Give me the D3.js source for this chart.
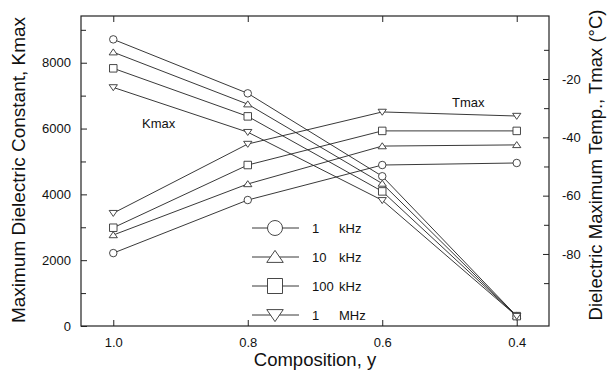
<!DOCTYPE html>
<html>
<head>
<meta charset="utf-8">
<script src="https://cdn.jsdelivr.net/npm/d3@7"></script>
<style>
	body { margin: 0; background: #fff; }
	svg { display: block; font-family: Arial, "Liberation Sans", sans-serif; }
	.frame { fill: none; stroke: #222; stroke-width: 1.2; }
	.tick line { stroke: #222; }
	.series { fill: none; stroke: #222; stroke-width: 0.9; }
	.marker { fill: #fff; stroke: #333; stroke-width: 0.9; }
</style>
</head>
<body>
<svg id="canvas" width="609" height="370"></svg>
<script>
// composition values on the x axis
const comps = [1.0, 0.8, 0.6, 0.4];
const xTicks = [1.0, 0.8, 0.6, 0.4];
const kTicks = [0, 2000, 4000, 6000, 8000];
const kMinor = [1000, 3000, 5000, 7000, 9000];
const tTicks = [-20, -40, -60, -80];
const tMinor = [-10, -30, -50, -70, -90];

// series: 1 kHz, 10 kHz, 100 kHz, 1 MHz
const shapes = ["circle", "up", "square", "down"];
const freqNum = ["1", "10", "100", "1"];
const freqUnit = ["kHz", "kHz", "kHz", "MHz"];

// maximum dielectric constant (left axis)
const kmax1k = [8710, 7070, 4550, 300];
const kmax10k = [8320, 6740, 4330, 300];
const kmax100k = [7830, 6370, 4090, 300];
const kmax1M = [7250, 5890, 3820, 300];

// temperature of the maximum, degC (right axis)
const tmax1k = [-79.7, -61.5, -49.5, -48.8];
const tmax10k = [-73.5, -56.0, -43.0, -42.6];
const tmax100k = [-71.0, -49.5, -37.8, -37.8];
const tmax1M = [-66.0, -42.3, -31.3, -32.7];

const kmaxSeries = [kmax1k, kmax10k, kmax100k, kmax1M];
const tmaxSeries = [tmax1k, tmax10k, tmax100k, tmax1M];

const svg = d3.select("#canvas");
const mLeft = 81, mRight = 549, mTop = 16, mBottom = 326;

const x = d3.scaleLinear().domain([1.048, 0.352]).range([mLeft, mRight]);
const yK = d3.scaleLinear().domain([0, 9420]).range([mBottom, mTop]);
const yT = d3.scaleLinear().domain([-104.7, 1.6]).range([mBottom, mTop]);

// marker path, centred on 0,0
function markerPath(shape, s) {
	if (shape === "circle") return d3.symbol(d3.symbolCircle, Math.PI * s * s / 4)();
	if (shape === "square") return d3.symbol(d3.symbolSquare, s * s)();
	const h = s * 0.8, w = s * 0.55;
	if (shape === "up") return `M0,${-h * 0.55}L${w},${h * 0.45}L${-w},${h * 0.45}Z`;
	return `M0,${h * 0.55}L${w},${-h * 0.45}L${-w},${-h * 0.45}Z`;
}

// axes (ticks inward)
svg.append("g").attr("transform", `translate(${mLeft},0)`)
	.call(d3.axisLeft(yK).tickValues(kTicks).tickSizeInner(-6).tickSizeOuter(0).tickPadding(10).tickFormat(d3.format("d")))
	.call(g => g.select(".domain").remove());
svg.append("g").attr("transform", `translate(${mLeft},0)`)
	.call(d3.axisLeft(yK).tickValues(kMinor).tickSizeInner(-5).tickSizeOuter(0).tickFormat(""))
	.call(g => g.select(".domain").remove());
svg.append("g").attr("transform", `translate(${mRight},0)`)
	.call(d3.axisRight(yT).tickValues(tTicks).tickSizeInner(-6).tickSizeOuter(0).tickPadding(13).tickFormat(d => "-" + Math.abs(d)))
	.call(g => g.select(".domain").remove());
svg.append("g").attr("transform", `translate(${mRight},0)`)
	.call(d3.axisRight(yT).tickValues(tMinor).tickSizeInner(-5).tickSizeOuter(0).tickFormat(""))
	.call(g => g.select(".domain").remove());
svg.append("g").attr("transform", `translate(0,${mBottom})`)
	.call(d3.axisBottom(x).tickValues(xTicks).tickSizeInner(-6).tickSizeOuter(0).tickPadding(12).tickFormat(d3.format(".1f")))
	.call(g => g.select(".domain").remove());
svg.append("g").attr("transform", `translate(0,${mTop})`)
	.call(d3.axisTop(x).tickValues(xTicks).tickSizeInner(-6).tickSizeOuter(0).tickFormat(""))
	.call(g => g.select(".domain").remove());

svg.selectAll(".tick text").attr("font-size", 13).attr("fill", "#111").attr("font-family", "Arial, 'Liberation Sans', sans-serif");

svg.append("rect").attr("class", "frame")
	.attr("x", mLeft).attr("y", mTop).attr("width", mRight - mLeft).attr("height", mBottom - mTop);

// lines
const lineK = d3.line().x((d, i) => x(comps[i])).y(d => yK(d));
const lineT = d3.line().x((d, i) => x(comps[i])).y(d => yT(d));

svg.append("g").selectAll("path").data(kmaxSeries).join("path")
	.attr("class", "series").attr("d", lineK);
svg.append("g").selectAll("path").data(tmaxSeries).join("path")
	.attr("class", "series").attr("d", lineT);

// markers
kmaxSeries.forEach((s, k) => {
	svg.append("g").selectAll("path").data(s).join("path")
		.attr("class", "marker")
		.attr("transform", (d, i) => `translate(${x(comps[i])},${yK(d)})`)
		.attr("d", markerPath(shapes[k], 7.5));
});
tmaxSeries.forEach((s, k) => {
	svg.append("g").selectAll("path").data(s).join("path")
		.attr("class", "marker")
		.attr("transform", (d, i) => `translate(${x(comps[i])},${yT(d)})`)
		.attr("d", markerPath(shapes[k], 7.5));
});

// inline labels
svg.append("text").attr("x", 142).attr("y", 128).attr("font-size", 13).attr("fill", "#111").text("Kmax");
svg.append("text").attr("x", 452).attr("y", 107).attr("font-size", 13).attr("fill", "#111").text("Tmax");

// legend
const legend = svg.append("g");
shapes.forEach((sh, i) => {
	const ly = 228 + i * 29;
	legend.append("line").attr("x1", 252).attr("x2", 299).attr("y1", ly).attr("y2", ly)
		.attr("stroke", "#222").attr("stroke-width", 0.9);
	legend.append("path").attr("class", "marker")
		.attr("transform", `translate(275,${ly})`)
		.attr("d", markerPath(sh, 15));
	legend.append("text").attr("x", 312).attr("y", ly + 5).attr("font-size", 13).attr("fill", "#111").text(freqNum[i]);
	legend.append("text").attr("x", 339).attr("y", ly + 5).attr("font-size", 13).attr("fill", "#111").text(freqUnit[i]);
});

// axis titles
svg.append("text").attr("x", 315).attr("y", 366).attr("text-anchor", "middle")
	.attr("font-size", 18.5).attr("fill", "#111").text("Composition, y");
svg.append("text").attr("transform", "translate(25,170) rotate(-90)").attr("text-anchor", "middle")
	.attr("font-size", 19).attr("fill", "#111").text("Maximum Dielectric Constant, Kmax");
svg.append("text").attr("transform", "translate(602,165) rotate(-90)").attr("text-anchor", "middle")
	.attr("font-size", 18.5).attr("fill", "#111").text("Dielectric Maximum Temp., Tmax (\u00B0C)");
</script>
</body>
</html>
